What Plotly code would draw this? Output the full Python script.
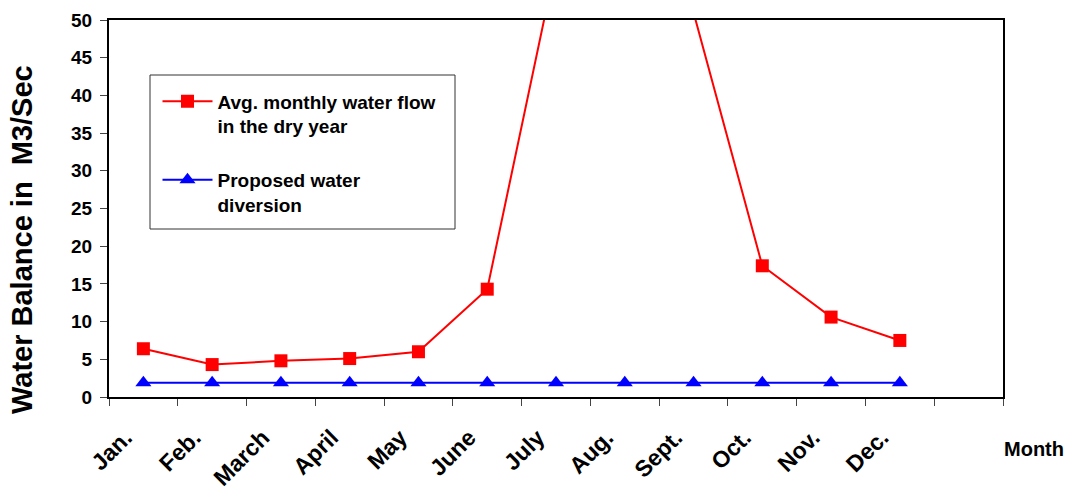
import plotly.graph_objects as go

months = ["Jan.", "Feb.", "March", "April", "May", "June", "July",
          "Aug.", "Sept.", "Oct.", "Nov.", "Dec."]
categories = months + [" "]
flow_dry_year = [6.4, 4.3, 4.8, 5.1, 6.0, 14.3, 57.5, 120.0, 51.0, 17.4, 10.6, 7.5]
diversion = [1.9] * 12

FONT = "Liberation Sans, Arial, sans-serif"
W, H = 1065, 491
L, R, T, B = 109, 1003, 20, 397


def px(x):
    return (x - L) / (R - L)


def py(y):
    return 1 - (y - T) / (B - T)


fig = go.Figure()
fig.add_trace(go.Scatter(
    x=months, y=flow_dry_year, mode="lines+markers",
    name="<b>Avg. monthly water flow<br>in the dry year</b>",
    line=dict(color="#ff0000", width=2),
    marker=dict(symbol="square", size=13, color="#ff0000"),
    legendgroup="a",
))
fig.add_trace(go.Scatter(
    x=months, y=diversion, mode="lines+markers",
    name="<b>Proposed water<br>diversion</b>",
    line=dict(color="#0000ff", width=2),
    marker=dict(symbol="triangle-up", size=14, color="#0000ff"),
    legendgroup="b",
))

fig.update_layout(
    width=W, height=H,
    margin=dict(l=L, r=W - R, t=T, b=H - B, autoexpand=False),
    paper_bgcolor="white", plot_bgcolor="white",
    font=dict(family=FONT, color="black"),
    showlegend=True,
    legend=dict(
        x=px(157.5), y=py(82.5),
        xanchor="left", yanchor="top",
        bgcolor="rgba(0,0,0,0)", borderwidth=0,
        font=dict(family=FONT, size=19, color="black"),
        valign="top", traceorder="grouped", tracegroupgap=26,
        itemwidth=50,
    ),
    xaxis=dict(
        type="category", categoryorder="array", categoryarray=categories,
        range=[-0.5, 12.5], tickson="boundaries", automargin=False,
        ticks="outside", ticklen=7, tickcolor="#444", tickwidth=1,
        tickangle=-45, ticklabelstandoff=16, ticklabelshift=-18,
        tickfont=dict(family=FONT, size=23, color="black", weight="bold"),
        showline=True, linecolor="black", linewidth=2, mirror=True,
        showgrid=False, zeroline=False,
    ),
    yaxis=dict(
        range=[0, 50], dtick=5, automargin=False,
        ticks="outside", ticklen=7, tickcolor="#444", tickwidth=1,
        ticklabelstandoff=4,
        tickfont=dict(family=FONT, size=19, color="black", weight="bold"),
        showline=True, linecolor="black", linewidth=2, mirror=True,
        showgrid=False, zeroline=False,
    ),
    shapes=[dict(
        type="rect", xref="paper", yref="paper",
        x0=px(150), x1=px(455), y0=py(229), y1=py(75),
        line=dict(color="#333", width=1), fillcolor="rgba(0,0,0,0)",
    )],
    annotations=[
        dict(
            text="<b>Month</b>", xref="paper", yref="paper",
            x=px(1002), y=py(449), xanchor="left", yanchor="middle",
            showarrow=False, font=dict(family=FONT, size=20, color="black"),
        ),
        dict(
            text="<b>Water Balance in  M3/Sec</b>", xref="paper", yref="paper",
            x=px(22), y=py(240),
            xanchor="center", yanchor="middle", textangle=-90,
            showarrow=False, font=dict(family=FONT, size=29, color="black"),
        ),
    ],
)

fig.write_html(
    "out.html",
    config={"displayModeBar": False},
    post_script="document.body.style.margin='0';document.body.style.overflow='hidden';",
)
